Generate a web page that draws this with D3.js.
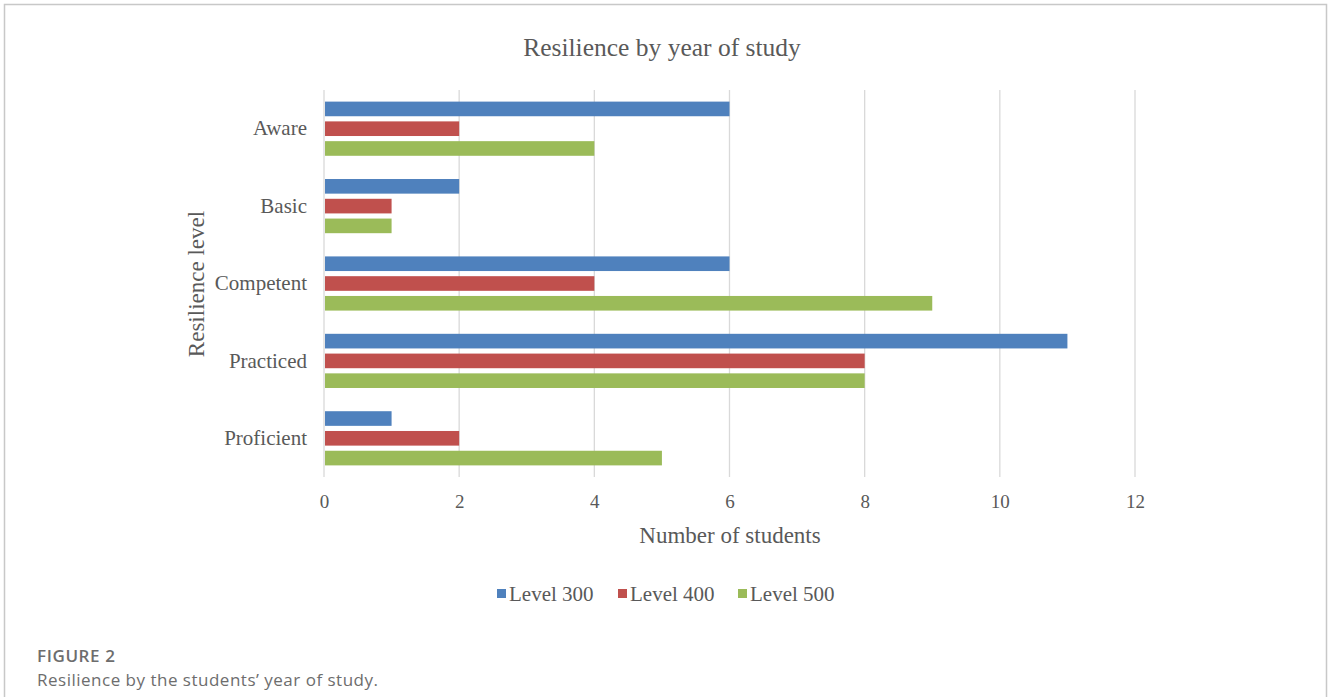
<!DOCTYPE html>
<html>
<head>
<meta charset="utf-8">
<script src="https://cdn.jsdelivr.net/npm/d3@7"></script>
<style>
  body { margin: 0; background: #fff; }
  svg { display: block; }
</style>
</head>
<body>
<svg id="chart" width="1328" height="697"></svg>
<script>

// ===========================//
// DATA
// ===========================//

var levels = ["Aware", "Basic", "Competent", "Practiced", "Proficient"]
var seriesNames = ["Level 300", "Level 400", "Level 500"]
var level300 = [6, 2, 6, 11, 1]
var level400 = [2, 1, 4, 8, 2]
var level500 = [4, 1, 9, 8, 5]
var xTicks = [0, 2, 4, 6, 8, 10, 12]

var seriesValues = [level300, level400, level500]

// ===========================//
// SCALES
// ===========================//

var color = d3.scaleOrdinal()
  .domain(seriesNames)
  .range(["#4F81BD", "#C0504D", "#9BBB59"])

var svg = d3.select("#chart")
var serif = "'Liberation Serif', 'Times New Roman', serif"
var textGrey = "#595959"

var x = d3.scaleLinear().domain([0, 12]).range([324, 1135])

var y0 = d3.scaleBand()
  .domain(levels)
  .range([90, 477])
  .paddingInner(0.3)
  .paddingOuter(0.15)

var y1 = d3.scaleBand()
  .domain(seriesNames)
  .range([0, y0.bandwidth()])
  .paddingInner(0.26)

// ===========================//
// FRAME
// ===========================//

svg.append("path")
  .attr("d", "M4.5,697 V4.5 H1326.5 V697")
  .attr("fill", "none")
  .attr("stroke", "#c8c8c8")
  .attr("stroke-width", 1.5)

// ===========================//
// GRIDLINES + AXIS
// ===========================//

svg.append("g")
  .selectAll("line")
  .data(xTicks)
  .enter()
  .append("line")
    .attr("x1", function(d){ return x(d) })
    .attr("x2", function(d){ return x(d) })
    .attr("y1", 90)
    .attr("y2", 477)
    .attr("stroke", "#d9d9d9")
    .attr("stroke-width", 1.3)

var xAxis = svg.append("g")
  .attr("transform", "translate(0,477)")
  .call(d3.axisBottom(x).tickValues(xTicks).tickSize(0).tickPadding(18))
xAxis.select(".domain").remove()
xAxis.selectAll("text")
  .attr("font-family", serif)
  .attr("font-size", 19)
  .attr("fill", textGrey)

var yAxis = svg.append("g")
  .attr("transform", "translate(324,0)")
  .call(d3.axisLeft(y0).tickSize(0).tickPadding(17))
yAxis.select(".domain").remove()
yAxis.selectAll("text")
  .attr("font-family", serif)
  .attr("font-size", 21)
  .attr("fill", textGrey)

// ===========================//
// BARS
// ===========================//

var groups = svg.append("g")
  .selectAll("g")
  .data(levels)
  .enter()
  .append("g")
    .attr("transform", function(d){ return "translate(0," + y0(d) + ")" })

groups.selectAll("rect")
  .data(function(d, i){
    return seriesNames.map(function(s, j){ return {series: s, value: seriesValues[j][i]} })
  })
  .enter()
  .append("rect")
    .attr("x", x(0) + 1)
    .attr("y", function(d){ return y1(d.series) })
    .attr("width", function(d){ return x(d.value) - x(0) - 1 })
    .attr("height", y1.bandwidth())
    .attr("fill", function(d){ return color(d.series) })

// ===========================//
// TITLES
// ===========================//

svg.append("text")
  .attr("x", 662)
  .attr("y", 56)
  .attr("text-anchor", "middle")
  .attr("font-family", serif)
  .attr("font-size", 25.5)
  .attr("fill", textGrey)
  .text("Resilience by year of study")

svg.append("text")
  .attr("x", 730)
  .attr("y", 543)
  .attr("text-anchor", "middle")
  .attr("font-family", serif)
  .attr("font-size", 23)
  .attr("fill", textGrey)
  .text("Number of students")

svg.append("text")
  .attr("transform", "translate(204,284) rotate(-90)")
  .attr("text-anchor", "middle")
  .attr("font-family", serif)
  .attr("font-size", 23)
  .attr("fill", textGrey)
  .text("Resilience level")

// ===========================//
// LEGEND
// ===========================//

var legendX = [497, 618, 738]
var legend = svg.append("g")
  .selectAll("g")
  .data(seriesNames)
  .enter()
  .append("g")
    .attr("transform", function(d, i){ return "translate(" + legendX[i] + ",594)" })

legend.append("rect")
  .attr("x", 0)
  .attr("y", -5)
  .attr("width", 9)
  .attr("height", 9)
  .attr("fill", function(d){ return color(d) })

legend.append("text")
  .attr("x", 12)
  .attr("y", 7)
  .attr("font-family", serif)
  .attr("font-size", 21)
  .attr("fill", textGrey)
  .text(function(d){ return d })

// ===========================//
// CAPTION
// ===========================//

svg.append("text")
  .attr("x", 37)
  .attr("y", 662)
  .attr("font-family", "'Open Sans', Lato, sans-serif")
  .attr("font-weight", 600)
  .attr("font-size", 17)
  .attr("letter-spacing", 0.6)
  .attr("fill", "#6d6d6d")
  .text("FIGURE 2")

svg.append("text")
  .attr("x", 37)
  .attr("y", 686)
  .attr("font-family", "'Open Sans', Lato, sans-serif")
  .attr("font-size", 17)
  .attr("letter-spacing", 0.5)
  .attr("fill", "#6d6d6d")
  .text("Resilience by the students\u2019 year of study.")

</script>
</body>
</html>
